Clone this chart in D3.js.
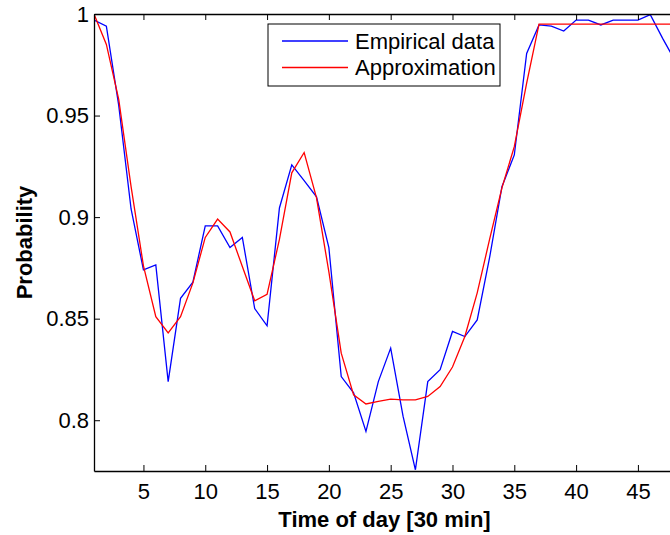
<!DOCTYPE html>
<html>
<head>
<meta charset="utf-8">
<script src="https://cdn.jsdelivr.net/npm/d3@7"></script>
<style>
  body { margin: 0; background: #fff; }
  svg { display: block; font-family: "Liberation Sans", Arial, sans-serif; }
</style>
</head>
<body>
<script>
// time slots 1..48 (30 min each)
let slots = d3.range(1, 49);

let empirical = [0.997, 0.994, 0.955, 0.904, 0.874, 0.8765, 0.819, 0.860, 0.868, 0.8957,
  0.8957, 0.885, 0.890, 0.855, 0.8465, 0.9045, 0.9257, 0.918, 0.910, 0.885,
  0.8215, 0.8135, 0.7945, 0.819, 0.8355, 0.802, 0.7756, 0.819, 0.8249, 0.8437,
  0.8412, 0.8494, 0.880, 0.915, 0.9306, 0.9806, 0.9946, 0.994, 0.9916, 0.997,
  0.997, 0.9946, 0.997, 0.997, 0.997, 0.9997, 0.988, 0.977];

let approx = [1.0, 0.985, 0.958, 0.915, 0.876, 0.851, 0.843, 0.851, 0.8676, 0.890,
  0.899, 0.8927, 0.8757, 0.8588, 0.862, 0.889, 0.9218, 0.9318, 0.9095, 0.873,
  0.833, 0.8125, 0.808, 0.8093, 0.8104, 0.810, 0.810, 0.8117, 0.8166, 0.8262,
  0.8412, 0.8627, 0.889, 0.9144, 0.9347, 0.966, 0.995, 0.995, 0.995, 0.995,
  0.995, 0.995, 0.995, 0.995, 0.995, 0.995, 0.995, 0.995];

let xTicks = [5, 10, 15, 20, 25, 30, 35, 40, 45];
let yTicks = [0.8, 0.85, 0.9, 0.95, 1];
let seriesNames = ["Empirical data", "Approximation"];
let seriesColors = ["#0000ff", "#ff0000"];

let svg = d3.select('body')
      .append('svg')
      .attr('width', 670)
      .attr('height', 535);

let plotL = 94, plotR = 675, plotT = 14, plotB = 471;

let x = d3.scaleLinear().domain([1, 48]).range([plotL, plotR]);
let y = d3.scaleLinear().domain([0.775, 1]).range([plotB, plotT]);

svg.append('defs').append('clipPath').attr('id', 'plot')
  .append('rect').attr('x', plotL).attr('y', plotT)
  .attr('width', plotR - plotL).attr('height', plotB - plotT);

// lines
let lineDrawer = d3.line()
      .x((d, i) => x(slots[i]))
      .y(d => y(d));

[empirical, approx].forEach((s, k) => {
  svg.append('path')
    .attr('clip-path', 'url(#plot)')
    .style('fill', 'none')
    .style('stroke', seriesColors[k])
    .style('stroke-width', 1.3)
    .attr('d', lineDrawer(s));
});

// axes (ticks inward, matlab style)
function styleAxis(g) {
  g.selectAll('path').attr('stroke', '#000').attr('stroke-width', 1.3);
  g.selectAll('line').attr('stroke', '#000').attr('stroke-width', 1);
  g.selectAll('text').attr('font-size', 22).attr('fill', '#000')
    .attr('font-family', '"Liberation Sans", Arial, sans-serif');
}

svg.append('g')
  .attr('transform', `translate(0,${plotB})`)
  .call(d3.axisBottom(x).tickValues(xTicks).tickSize(-6).tickSizeOuter(0).tickPadding(12))
  .call(styleAxis);

svg.append('g')
  .attr('transform', `translate(0,${plotT})`)
  .call(d3.axisTop(x).tickValues(xTicks).tickSize(-6).tickSizeOuter(0).tickFormat(''))
  .call(styleAxis);

svg.append('g')
  .attr('transform', `translate(${plotL},0)`)
  .call(d3.axisLeft(y).tickValues(yTicks).tickSize(-6).tickSizeOuter(0).tickPadding(5)
    .tickFormat(d => String(d)))
  .call(styleAxis);

// axis titles
svg.append('text')
  .attr('x', (plotL + plotR) / 2)
  .attr('y', 527)
  .attr('text-anchor', 'middle')
  .attr('font-size', 22)
  .attr('font-weight', 'bold')
  .text('Time of day [30 min]');

svg.append('text')
  .attr('transform', `translate(32,${(plotT + plotB) / 2}) rotate(-90)`)
  .attr('text-anchor', 'middle')
  .attr('font-size', 22)
  .attr('font-weight', 'bold')
  .text('Probability');

// legend
let legend = svg.append('g').attr('transform', 'translate(268,24)');
legend.append('rect')
  .attr('width', 232).attr('height', 62)
  .attr('fill', '#fff').attr('stroke', '#000').attr('stroke-width', 1);

seriesNames.forEach((name, k) => {
  let yy = 17 + k * 26.5;
  legend.append('line')
    .attr('x1', 14).attr('x2', 80).attr('y1', yy).attr('y2', yy)
    .attr('stroke', seriesColors[k]).attr('stroke-width', 1.3);
  legend.append('text')
    .attr('x', 87).attr('y', yy).attr('dy', '0.35em')
    .attr('font-size', 22)
    .text(name);
});
</script>
</body>
</html>
